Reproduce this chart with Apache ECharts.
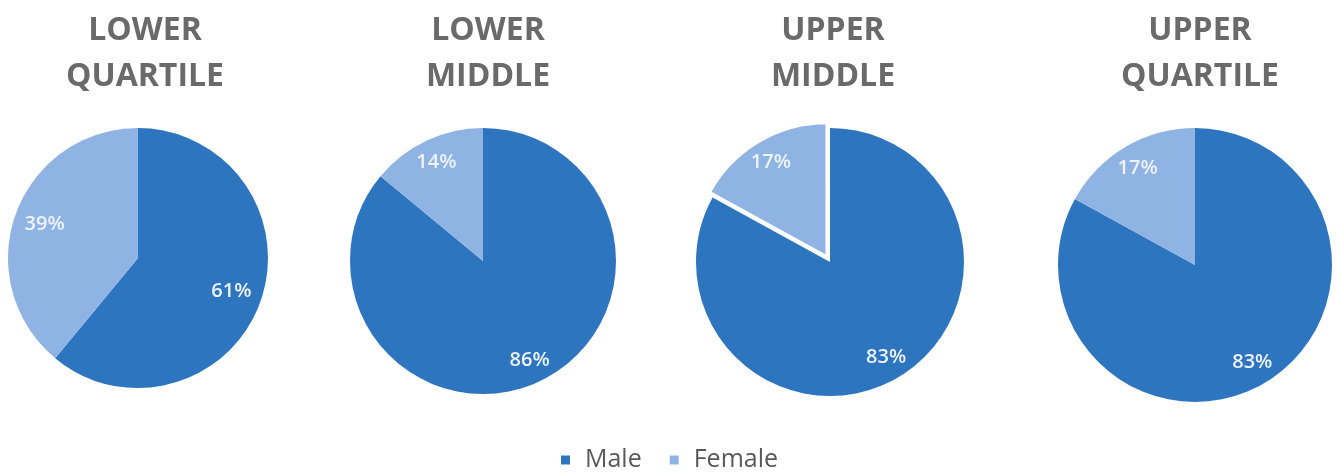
<!DOCTYPE html>
<html>
<head>
<meta charset="utf-8">
<script src="https://cdn.jsdelivr.net/npm/echarts@6/dist/echarts.min.js"></script>
<style>
html,body{margin:0;padding:0;background:#fff;}
#chart{width:1339px;height:472px;}
</style>
</head>
<body>
<div id="chart"></div>
<script>
// ---- data ----
const categories = ['Male', 'Female'];
const groupTitles = ['LOWER\nQUARTILE', 'LOWER\nMIDDLE', 'UPPER\nMIDDLE', 'UPPER\nQUARTILE'];
const maleValues = [61, 86, 83, 83];
const femaleValues = [39, 14, 17, 17];
const explodedFemale = [false, false, true, false];

// ---- layout / style ----
const centers = [[138, 258], [483, 261], [830, 262], [1195, 265]];
const radii = [130, 133, 134, 137];
const labelRadial = [0.74, 0.8, 0.8, 0.8];
const titleX = [140, 483, 828, 1195];
const colors = ['#2e75c0', '#8fb4e4'];
const fontFamily = '"Open Sans", "DejaVu Sans", sans-serif';

const chart = echarts.init(document.getElementById('chart'), null, {renderer: 'canvas'});

const titles = groupTitles.map((t, i) => ({
  text: t,
  left: titleX[i],
  top: 3,
  textAlign: 'center',
  textStyle: {
    fontFamily: fontFamily,
    fontSize: 32,
    fontWeight: 'bold',
    color: '#6a6a6a',
    lineHeight: 46
  }
}));

const series = [];
groupTitles.forEach((t, i) => {
  const data = categories.map((c, j) => {
    const v = j === 0 ? maleValues[i] : femaleValues[i];
    const item = {name: c, value: v, itemStyle: {color: colors[j]}};
    if (j === 1 && explodedFemale[i]) {
      item.selected = true;
      item.itemStyle = {color: colors[j], borderColor: '#ffffff', borderWidth: 3};
    }
    return item;
  });
  series.push({
    type: 'pie',
    name: t,
    center: centers[i],
    radius: [0, radii[i]],
    startAngle: 90,
    clockwise: true,
    selectedMode: 'multiple',
    selectedOffset: 6,
    animation: false,
    silent: true,
    label: {show: false},
    labelLine: {show: false},
    emphasis: {disabled: true},
    data: data
  });
});
// label rings (transparent) so labels sit at the proper radial distance
groupTitles.forEach((t, i) => {
  const r = radii[i];
  const r0 = (2 * labelRadial[i] - 1) * r;
  const data = categories.map((c, j) => {
    const v = j === 0 ? maleValues[i] : femaleValues[i];
    const item = {name: c, value: v};
    if (j === 1 && explodedFemale[i]) item.selected = true;
    return item;
  });
  series.push({
    type: 'pie',
    name: t + ' labels',
    center: centers[i],
    radius: [r0, r],
    startAngle: 90,
    clockwise: true,
    selectedMode: 'multiple',
    selectedOffset: 6,
    animation: false,
    silent: true,
    itemStyle: {color: 'rgba(0,0,0,0)'},
    label: {
      show: true,
      position: 'inside',
      formatter: '{c}%',
      fontFamily: fontFamily,
      fontSize: 20,
      fontWeight: 600,
      color: '#eef3f9'
    },
    labelLine: {show: false},
    emphasis: {disabled: true},
    data: data
  });
});

chart.setOption({
  backgroundColor: '#ffffff',
  title: titles,
  legend: {
    data: categories.map((c, j) => ({name: c, itemStyle: {color: colors[j]}})),
    left: 'center',
    top: 447,
    padding: 0,
    icon: 'rect',
    itemWidth: 9,
    itemHeight: 9,
    itemGap: 28,
    selectedMode: false,
    textStyle: {fontFamily: fontFamily, fontSize: 25, lineHeight: 26, color: '#595959', padding: [0, 0, 0, 10]}
  },
  series: series
});
</script>
</body>
</html>
